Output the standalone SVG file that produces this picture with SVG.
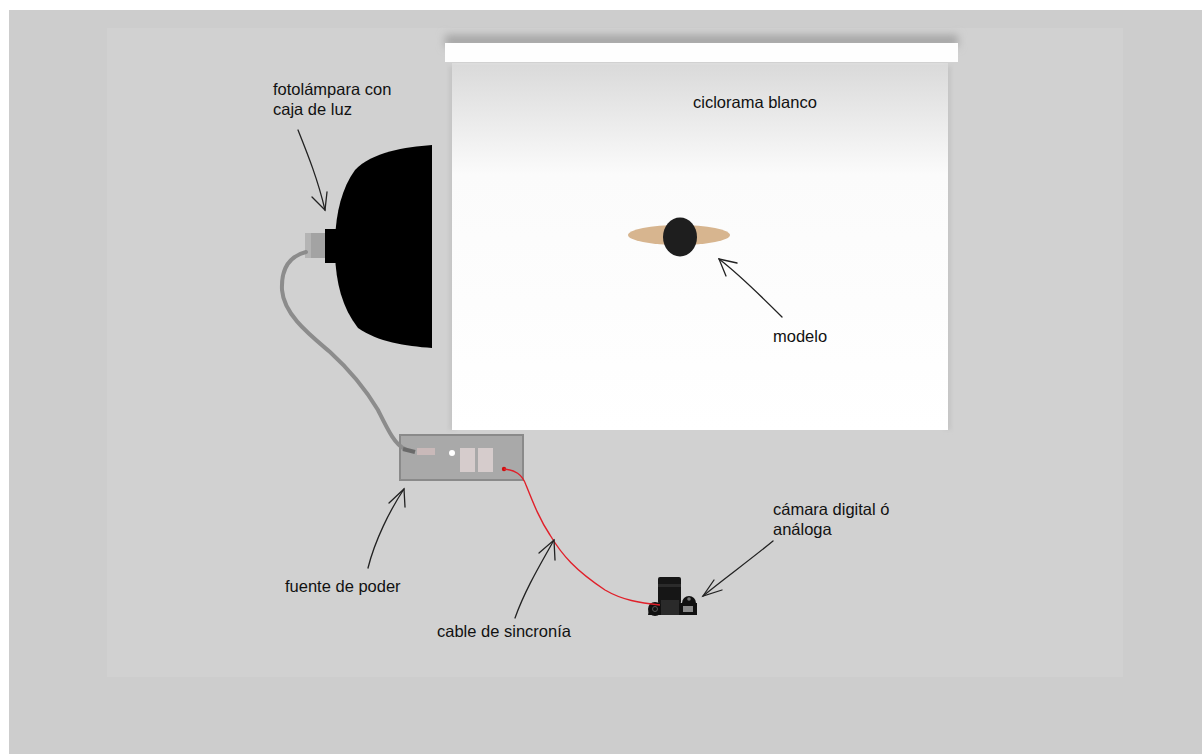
<svg xmlns="http://www.w3.org/2000/svg" width="1202" height="754" viewBox="0 0 1202 754">
  <defs>
    <style>
      .lbl { font-family: "Liberation Sans", Arial, sans-serif; font-size: 16.5px; fill: #111; }
      .ptr { fill: none; stroke: #222; stroke-width: 1.3; stroke-linecap: round; }
    </style>
    <linearGradient id="screenGrad" x1="0" y1="0" x2="0" y2="1">
      <stop offset="0" stop-color="#dadada"/>
      <stop offset="0.3" stop-color="#fbfbfb"/>
      <stop offset="1" stop-color="#ffffff"/>
    </linearGradient>
    <filter id="soft" x="-10%" y="-100%" width="120%" height="300%">
      <feGaussianBlur stdDeviation="4"/>
    </filter>
    <filter id="edge" x="-50%" y="-5%" width="200%" height="110%">
      <feGaussianBlur stdDeviation="2"/>
    </filter>
  </defs>

  <!-- backdrop -->
  <rect x="0" y="0" width="1202" height="754" fill="#ffffff"/>
  <rect x="9" y="10" width="1193" height="744" fill="#cdcdcd"/>
  <rect x="107" y="28" width="1016" height="649" fill="#d1d1d1"/>

  <!-- cyclorama -->
  <g id="ciclorama">
    <rect x="445" y="35" width="513" height="12" fill="#a4a4a4" filter="url(#soft)"/>
    <rect x="449" y="66" width="6" height="364" fill="#c4c4c4" filter="url(#edge)"/>
    <rect x="945" y="66" width="6" height="364" fill="#c4c4c4" filter="url(#edge)"/>
    <rect x="452" y="65" width="496" height="365" fill="url(#screenGrad)"/>
    <rect x="445" y="43" width="513" height="19" fill="#fefefe"/>
    <line x1="452" y1="64" x2="948" y2="64" stroke="#e8e8e8" stroke-width="1"/>
    <text class="lbl" x="693" y="108">ciclorama blanco</text>
  </g>

  <!-- model seen from above -->
  <g id="modelo">
    <ellipse cx="679" cy="235" rx="51" ry="10" fill="#d7b58f"/>
    <ellipse cx="680" cy="237" rx="17" ry="19.5" fill="#1e1e1e"/>
    <text class="lbl" x="773" y="342">modelo</text>
  </g>

  <!-- softbox lamp -->
  <g id="fotolampara">
    <path d="M432,145 C405,147 372,152 355,170 C342,188 336,212 335,240 C334,275 340,305 358,328 C378,342 405,346 432,348 Z" fill="#000"/>
    <rect x="325" y="229" width="12" height="34" fill="#000"/>
    <rect x="305" y="233" width="20" height="25" fill="#a3a3a3"/>
    <rect x="305" y="233" width="6" height="25" fill="#b4b4b4"/>
    <text class="lbl" x="273" y="95">fotolámpara con</text>
    <text class="lbl" x="273" y="115">caja de luz</text>
  </g>

  <!-- power pack -->
  <g id="fuente">
    <rect x="400" y="435" width="123" height="45" fill="#a9a9a9" stroke="#8a8a8a" stroke-width="2"/>
    <rect x="417" y="448" width="18" height="7" fill="#c9b9b9"/>
    <circle cx="452" cy="453" r="3" fill="#ffffff"/>
    <rect x="460" y="448" width="15" height="24" fill="#d6cccc"/>
    <rect x="478" y="448" width="15" height="24" fill="#d6cccc"/>
    <circle cx="504" cy="469" r="2.2" fill="#d01010"/>
    <text class="lbl" x="285" y="592">fuente de poder</text>
  </g>

  <!-- camera seen from above -->
  <g id="camara">
    <path d="M650,603 L697,603 L697,615 L648,615 Z" fill="#111"/>
    <circle cx="689" cy="603" r="7" fill="#111"/>
    <circle cx="655" cy="609" r="7" fill="#111"/>
    <rect x="658" y="577" width="23" height="27" rx="2" fill="#161616"/>
    <rect x="658" y="584" width="23" height="3" fill="#2b2b2b"/>
    <rect x="661" y="600" width="18" height="15" fill="#2a2a2a"/>
    <rect x="683" y="606" width="10" height="6" fill="#8a8a8a"/>
    <circle cx="689" cy="599" r="1.8" fill="#777"/>
    <circle cx="655" cy="609" r="2.5" fill="none" stroke="#555" stroke-width="1"/>
    <text class="lbl" x="773" y="515">cámara digital ó</text>
    <text class="lbl" x="773" y="535">análoga</text>
  </g>

  <!-- cables and pointers -->
  <g id="conectores">
    <path d="M306,252 C290,256 281,268 282,290 C284,315 310,335 330,352 C352,372 366,390 378,410 C388,430 395,445 405,449" fill="none" stroke="#8c8c8c" stroke-width="4" stroke-linecap="round"/>
    <path d="M403,449 L415,452" fill="none" stroke="#6a6a6a" stroke-width="4"/>
    <path d="M504,469 C515,470 522,474 526,485 C534,505 540,520 550,535 C562,555 575,570 605,590 C622,600 640,603 660,605" fill="none" stroke="#e0202a" stroke-width="1.4"/>
    <text class="lbl" x="437" y="637">cable de sincronía</text>

    <path class="ptr" d="M298,130 C308,155 318,180 325,210"/>
    <path class="ptr" d="M312,197 L325,210 L327,192"/>

    <path class="ptr" d="M782,317 C760,295 740,275 719,259"/>
    <path class="ptr" d="M737,263 L719,259 L726,276"/>

    <path class="ptr" d="M368,568 C375,540 390,510 404,489"/>
    <path class="ptr" d="M389,503 L404,489 L405,507"/>

    <path class="ptr" d="M515,618 C525,590 540,565 554,540"/>
    <path class="ptr" d="M539,553 L554,540 L555,560"/>

    <path class="ptr" d="M773,541 C750,560 725,578 703,596"/>
    <path class="ptr" d="M714,580 L703,596 L722,590"/>
  </g>
</svg>
